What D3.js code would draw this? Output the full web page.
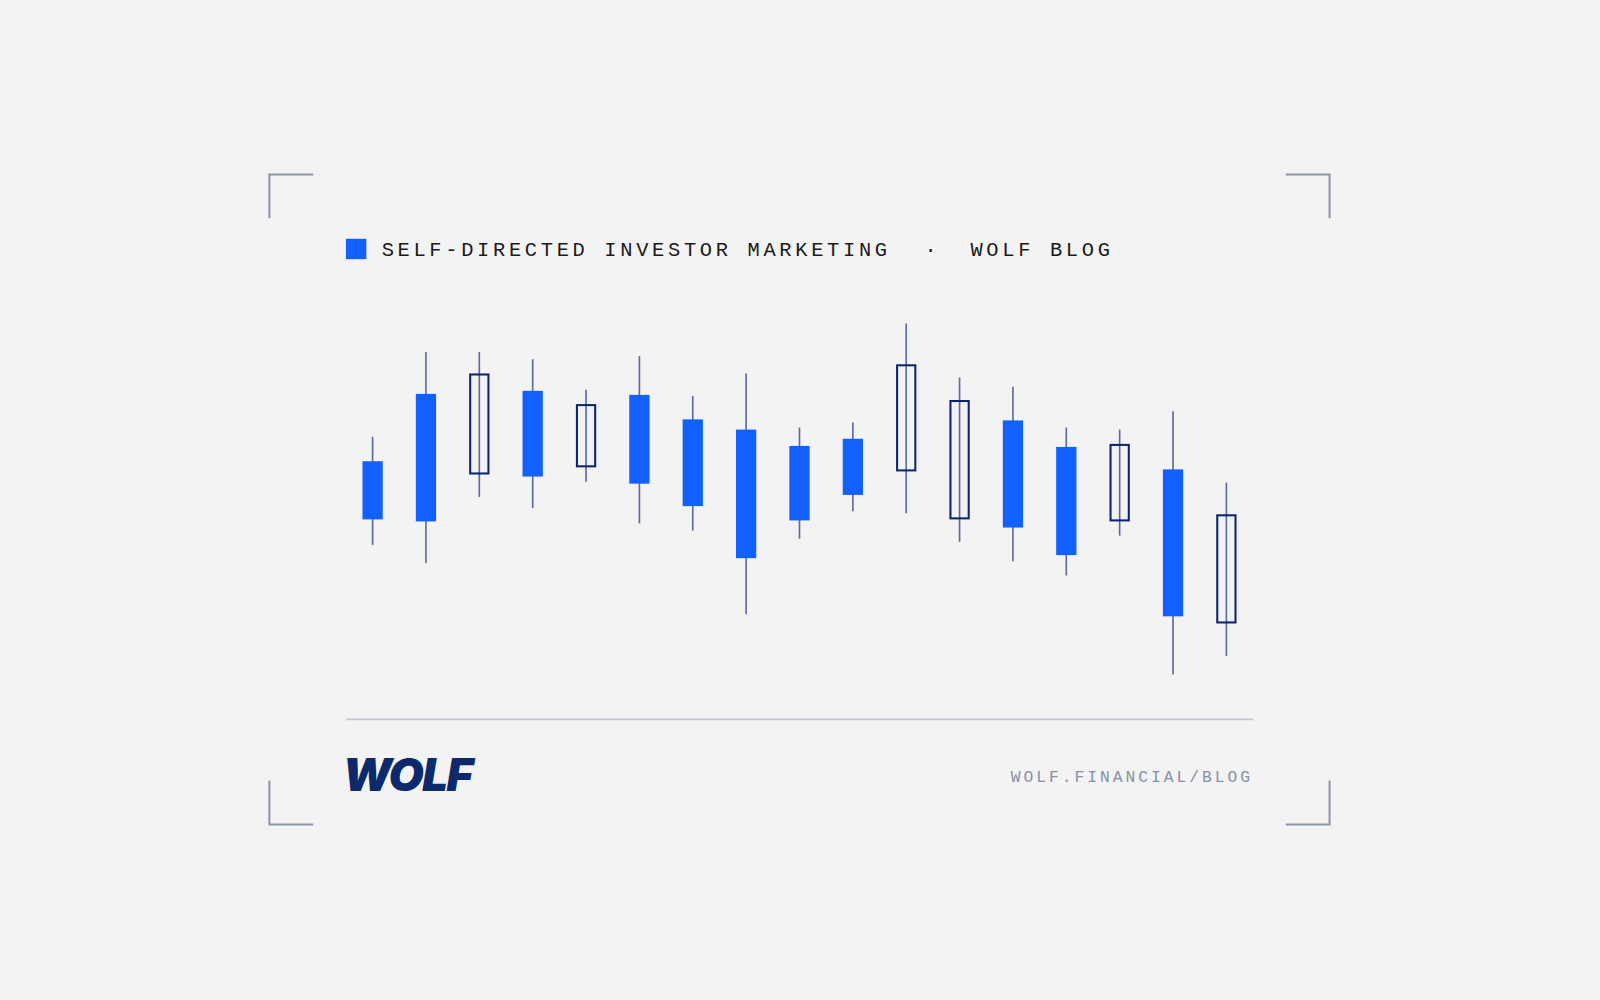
<!DOCTYPE html><html><head><meta charset="utf-8"><script src="https://cdn.jsdelivr.net/npm/d3@7"></script>
<style>html,body{margin:0;background:#f3f3f3}</style></head><body><svg id="c" width="1600" height="1000" viewBox="0 0 1568 980"></svg>
<script>
const categories=d3.range(1,18).map(String);
const highs=[272,355,355,348,318,351,312,334,281,286,383,330,321,281,279,297,227];
const opens=[248,314,236,317,243,313,289,279,263,270,239,192,288,262,190,240,90];
const closes=[191,189,333,233,303,226,204,153,190,215,342,307,183,156,264,96,195];
const lows=[166,148,213,202,228,187,180,98,172,199,197,169,150,136,175,39,57];
const svg=d3.select("#c");
svg.append("rect").attr("width",1568).attr("height",980).attr("fill","#f3f3f3");
const x=d3.scaleBand().domain(categories).range([339,1228]).paddingInner(0.62).paddingOuter(0.31);
const y=d3.scaleLinear().domain([0,700]).range([700,0]);
const cc="#8c96a8";
[[264,171,1,1],[1303,171,-1,1],[264,808,1,-1],[1303,808,-1,-1]].forEach(([cx,cy,sx,sy])=>{
 svg.append("path").attr("d",`M${cx},${cy+sy*43}V${cy}H${cx+sx*43}`).attr("fill","none").attr("stroke",cc).attr("stroke-width",2);
});
svg.append("rect").attr("x",339).attr("y",234).attr("width",20).attr("height",20).attr("fill","#1160ff");
const mono="Liberation Mono, DejaVu Sans Mono, monospace";
const t=svg.append("text").attr("y",251).attr("font-family",mono).attr("font-size",20).attr("letter-spacing",3.6).attr("fill","#1a1a1a");
t.append("tspan").attr("x",374).text("SELF-DIRECTED INVESTOR MARKETING");
t.append("tspan").attr("x",906).text("·");
t.append("tspan").attr("x",951).text("WOLF BLOG");
svg.append("line").attr("x1",339).attr("x2",1228).attr("y1",705).attr("y2",705).attr("stroke","#c4c8d4").attr("stroke-width",1.5);
svg.append("text").attr("x",336).attr("y",775).attr("font-family","Inter, Roboto, sans-serif").attr("font-weight",900).attr("font-style","italic").attr("font-size",44).attr("letter-spacing",-1.5).attr("fill","#0c2a6b").attr("textLength",126).attr("lengthAdjust","spacingAndGlyphs").text("WOLF");
svg.append("text").attr("x",1228).attr("y",766).attr("text-anchor","end").attr("font-family",mono).attr("font-size",16).attr("letter-spacing",2.9).attr("fill","#8690a6").text("WOLF.FINANCIAL/BLOG");
const g=svg.append("g");
categories.forEach((c,i)=>{
 const cx=x(c)+x.bandwidth()/2, up=closes[i]>opens[i];
 g.append("line").attr("x1",cx).attr("x2",cx).attr("y1",y(highs[i])).attr("y2",y(lows[i])).attr("stroke","#5a6a9a").attr("stroke-width",1.6);
 const top=y(Math.max(opens[i],closes[i])),bot=y(Math.min(opens[i],closes[i]));
 if(up) g.append("rect").attr("x",x(c)+1).attr("y",top).attr("width",x.bandwidth()-2).attr("height",bot-top).attr("fill","none").attr("stroke","#0c2170").attr("stroke-width",2);
 else g.append("rect").attr("x",x(c)).attr("y",top).attr("width",x.bandwidth()).attr("height",bot-top).attr("fill","#1160ff");
});
</script></body></html>
